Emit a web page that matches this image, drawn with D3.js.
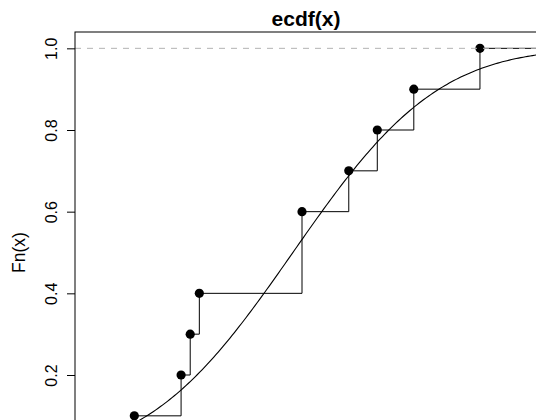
<!DOCTYPE html>
<html>
<head>
<meta charset="utf-8">
<script src="https://cdn.jsdelivr.net/npm/d3@7"></script>
<style>
    html, body { margin: 0; padding: 0; background: #fff; }
    svg { display: block; font-family: "Liberation Sans", Arial, Helvetica, sans-serif; }
</style>
</head>
<body>
<div id="chart"></div>
<script>
// Sample behind the ecdf plot.
const sample = [-1.39, -0.98, -0.90, -0.82, 0.08, 0.08, 0.49, 0.74, 1.06, 1.64];
// only the ticks that show in the cropped picture
const yTicks = [0.2, 0.4, 0.6, 0.8, 1.0];
const xLimits = [-1.91, 2.14];
const yLimits = [-0.04, 1.04];
const titleText = "ecdf(x)";
const yLabelText = "Fn(x)";

const width = 536;
const height = 420;
const margin = { top: 32, left: 75, right: -1, bottom: 473 };

// normal cdf, for the fitted curve pnorm(x, mean(x), sd(x))
const erf = z => {
    const t = 1 / (1 + 0.3275911 * Math.abs(z));
    const y = 1 - (((((1.061405429 * t - 1.453152027) * t) + 1.421413741) * t - 0.284496736) * t + 0.254829592) * t * Math.exp(-z * z);
    return z >= 0 ? y : -y;
};
const pnorm = (v, mu, sd) => 0.5 * (1 + erf((v - mu) / (sd * Math.SQRT2)));

const x = d3.scaleLinear().domain(xLimits).range([margin.left, width - margin.right]);
const y = d3.scaleLinear().domain(yLimits).range([margin.bottom, margin.top]);

const svg = d3.select("#chart")
    .append("svg")
    .attr("width", width)
    .attr("height", height);

const plotArea = svg.append("g");

// step function pieces
const n = sample.length;
const knots = [...new Set(sample)].sort((a, b) => a - b);
const levels = knots.map(k => sample.filter(v => v <= k).length / n);

const horizontals = knots.map((k, i) => ({
    x1: k,
    x2: i < knots.length - 1 ? knots[i + 1] : xLimits[1] + 1,
    level: levels[i]
}));
horizontals.unshift({ x1: xLimits[0] - 1, x2: knots[0], level: 0 });

const verticals = knots.map((k, i) => ({ at: k, from: i ? levels[i - 1] : 0, to: levels[i] }));

plotArea.append("g")
    .selectAll("line")
    .data(horizontals)
    .join("line")
    .attr("x1", d => x(d.x1))
    .attr("x2", d => x(d.x2))
    .attr("y1", d => y(d.level))
    .attr("y2", d => y(d.level))
    .attr("stroke", "#000")
    .attr("stroke-width", 1);

plotArea.append("g")
    .selectAll("line")
    .data(verticals)
    .join("line")
    .attr("x1", d => x(d.at))
    .attr("x2", d => x(d.at))
    .attr("y1", d => y(d.from))
    .attr("y2", d => y(d.to))
    .attr("stroke", "#000")
    .attr("stroke-width", 1);

plotArea.append("g")
    .selectAll("circle")
    .data(knots)
    .join("circle")
    .attr("cx", d => x(d))
    .attr("cy", (_, i) => y(levels[i]))
    .attr("r", 4.6)
    .attr("fill", "#000");

// gray dashed reference lines at 0 and 1
plotArea.append("g")
    .selectAll("line")
    .data([0, 1])
    .join("line")
    .attr("x1", margin.left)
    .attr("x2", width)
    .attr("y1", d => y(d))
    .attr("y2", d => y(d))
    .attr("stroke", "#b3b3b3")
    .attr("stroke-width", 1)
    .attr("stroke-dasharray", "6,6");

// fitted normal curve
const mu = d3.mean(sample);
const sd = d3.deviation(sample);
const curveX = d3.range(0, 201).map(i => xLimits[0] + (xLimits[1] - xLimits[0]) * i / 200);

plotArea.append("path")
    .datum(curveX)
    .attr("fill", "none")
    .attr("stroke", "#000")
    .attr("stroke-width", 1.1)
    .attr("d", d3.line().x(d => x(d)).y(d => y(pnorm(d, mu, sd))));

// frame
svg.append("rect")
    .attr("x", margin.left)
    .attr("y", margin.top)
    .attr("width", x.range()[1] - margin.left)
    .attr("height", margin.bottom - margin.top)
    .attr("fill", "none")
    .attr("stroke", "#000")
    .attr("stroke-width", 1);

// y axis
const yAxis = svg.append("g")
    .attr("transform", `translate(${margin.left},0)`)
    .call(d3.axisLeft(y).tickValues(yTicks).tickSize(8).tickFormat(d3.format(".1f")));

yAxis.select(".domain").remove();
yAxis.selectAll(".tick line").attr("stroke", "#000");
yAxis.selectAll(".tick text")
    .attr("font-size", 16)
    .attr("fill", "#000")
    .attr("text-anchor", "middle")
    .attr("dy", null)
    .attr("x", null)
    .attr("transform", "translate(-18.5,0) rotate(-90)");

svg.append("text")
    .attr("transform", `translate(24.5,${(margin.top + margin.bottom) / 2}) rotate(-90)`)
    .attr("text-anchor", "middle")
    .attr("font-size", 17.5)
    .text(yLabelText);

svg.append("text")
    .attr("x", (x.range()[0] + x.range()[1]) / 2)
    .attr("y", 26)
    .attr("text-anchor", "middle")
    .attr("font-size", 21)
    .attr("font-weight", "bold")
    .text(titleText);
</script>
</body>
</html>
